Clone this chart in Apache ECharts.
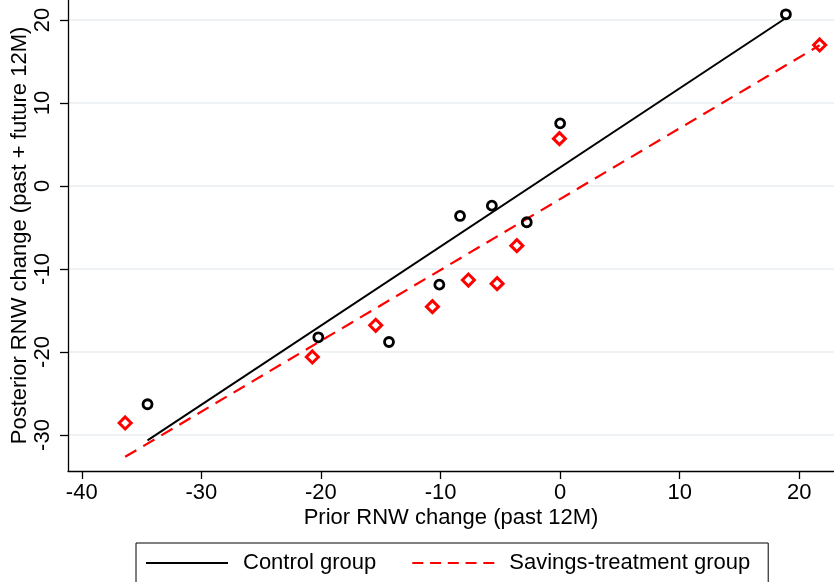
<!DOCTYPE html>
<html>
<head>
<meta charset="utf-8">
<script src="https://cdn.jsdelivr.net/npm/echarts@6/dist/echarts.min.js"></script>
<style>
  html, body { margin: 0; padding: 0; background: #ffffff; }
  #chart { width: 834px; height: 582px; }
</style>
</head>
<body>
<div id="chart"></div>
<script>
// Tick positions on both axes
const xTicks = [-40, -30, -20, -10, 0, 10, 20];
const yTicks = [-30, -20, -10, 0, 10, 20];

// Control group: binned prior vs posterior RNW change
const controlX = [-34.5, -20.22, -14.31, -10.1, -8.37, -5.71, -2.79, 0.0, 18.88];
const controlY = [-26.3, -18.23, -18.8, -11.89, -3.61, -2.37, -4.37, 7.55, 20.69];

// Savings-treatment group
const treatX = [-36.37, -20.72, -15.42, -10.68, -7.67, -5.27, -3.62, -0.06, 21.7];
const treatY = [-28.55, -20.6, -16.78, -14.54, -11.33, -11.77, -7.19, 5.7, 16.99];

// Fitted lines (end points)
const controlFitX = [-34.5, 18.88];
const controlFitY = [-30.65, 20.24];
const treatFitX = [-36.37, 21.7];
const treatFitY = [-32.63, 16.95];

const zip = (xs, ys) => xs.map((x, i) => [x, ys[i]]);

const FONT = '"Liberation Sans", Arial, sans-serif';
const chart = echarts.init(document.getElementById('chart'), null, { renderer: 'canvas' });

chart.setOption({
  animation: false,
  backgroundColor: '#ffffff',
  textStyle: { fontFamily: FONT },
  grid: { left: 68, right: 0, top: 0, bottom: 111, containLabel: false, outerBoundsMode: 'none' },
  xAxis: {
    type: 'value',
    min: -41.15,
    max: 22.9,
    name: 'Prior RNW change (past 12M)',
    nameLocation: 'middle',
    nameGap: 36,
    nameMoveOverlap: false,
    nameTextStyle: { fontSize: 22, color: '#000', fontFamily: FONT, lineHeight: 22 },
    axisLine: { show: true, onZero: false, lineStyle: { color: '#000', width: 1.3 } },
    axisTick: { show: true, length: 8, customValues: xTicks, lineStyle: { color: '#000', width: 1.3 } },
    axisLabel: { customValues: xTicks, fontSize: 22, color: '#000', fontFamily: FONT, margin: 11, lineHeight: 22 },
    splitLine: { show: false }
  },
  yAxis: {
    type: 'value',
    min: -34.34,
    max: 22.41,
    name: 'Posterior RNW change (past + future 12M)',
    nameLocation: 'middle',
    nameGap: 37,
    nameMoveOverlap: false,
    nameTextStyle: { fontSize: 22, color: '#000', fontFamily: FONT, lineHeight: 22 },
    axisLine: { show: true, onZero: false, lineStyle: { color: '#000', width: 1.3 } },
    axisTick: { show: true, length: 8, customValues: yTicks, lineStyle: { color: '#000', width: 1.3 } },
    axisLabel: { customValues: yTicks, rotate: 90, fontSize: 22, color: '#000', fontFamily: FONT, margin: 14, lineHeight: 22 },
    splitLine: { show: false }
  },
  legend: {
    data: [
      { name: 'Control group' },
      { name: 'Savings-treatment group', lineStyle: { type: [11, 6.75] } }
    ],
    left: 136,
    top: 543,
    orient: 'horizontal',
    itemWidth: 82,
    itemHeight: 14,
    itemGap: 35,
    padding: [9, 18, 40, 9],
    borderColor: '#000',
    borderWidth: 1,
    backgroundColor: '#ffffff',
    selectedMode: false,
    itemStyle: { color: 'rgba(0,0,0,0)', borderColor: 'rgba(0,0,0,0)', borderWidth: 0 },
    textStyle: { fontSize: 22, color: '#000', fontFamily: FONT, lineHeight: 22, padding: [0, 0, 0, 10] }
  },
  series: [
    {
      // horizontal gridlines at the y ticks
      name: 'grid',
      type: 'line',
      data: [],
      z: 0,
      silent: true,
      markLine: {
        z: 0,
        silent: true,
        symbol: ['none', 'none'],
        label: { show: false },
        lineStyle: { color: '#e8eef2', width: 1.5, type: 'solid' },
        data: yTicks.map(v => ({ yAxis: v }))
      }
    },
    {
      name: 'Control group',
      type: 'line',
      data: zip(controlFitX, controlFitY),
      symbol: 'none',
      z: 3,
      lineStyle: { color: '#000000', width: 2, type: 'solid' },
      itemStyle: { color: '#000000' }
    },
    {
      name: 'Savings-treatment group',
      type: 'line',
      data: zip(treatFitX, treatFitY),
      symbol: 'none',
      z: 3,
      lineStyle: { color: '#ff0000', width: 2.2, type: [13, 8] },
      itemStyle: { color: '#ff0000' }
    },
    {
      name: 'Control group bins',
      type: 'scatter',
      data: zip(controlX, controlY),
      symbol: 'circle',
      symbolSize: 9,
      z: 4,
      itemStyle: { color: 'rgba(255,255,255,0)', borderColor: '#000000', borderWidth: 2.8, opacity: 1 }
    },
    {
      name: 'Savings-treatment group bins',
      type: 'scatter',
      data: zip(treatX, treatY),
      symbol: 'diamond',
      symbolSize: 12,
      z: 4,
      itemStyle: { color: 'rgba(255,255,255,0)', borderColor: '#ff0000', borderWidth: 3, opacity: 1 }
    }
  ]
});
</script>
</body>
</html>
